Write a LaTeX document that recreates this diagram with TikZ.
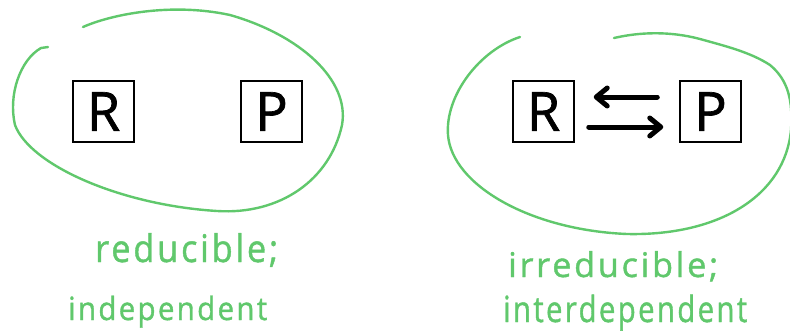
\documentclass[tikz,border=0pt]{standalone}
\usepackage{fontspec}
\setmainfont{Open Sans}
\newfontfamily\handfont[LetterSpace=8,FakeBold=1.2]{Open Sans}
\newfontfamily\boxfont[FakeBold=1.3]{Open Sans}
\usetikzlibrary{arrows.meta}
\definecolor{hgreen}{RGB}{96,200,108}
\tikzset{
  box/.style={draw=black, line width=1.5pt, minimum size=61pt, inner sep=0pt,
    font=\boxfont\fontsize{54}{54}\selectfont},
  loop/.style={draw=hgreen, line width=2.4pt, line cap=round, line join=round},
  hand/.style={text=hgreen, inner sep=0pt, anchor=base west},
  arr/.style={line width=5pt, line cap=round,
    -{Straight Barb[length=11pt,width=18pt,round]}},
}
\newcommand\fitw[2]{\resizebox{#1}{\height}{#2}}
\begin{document}
\begin{tikzpicture}[x=1pt,y=-1pt]
\useasboundingbox (0,0) rectangle (790,335);
\clip (0,0) rectangle (790,335);
\fill[white] (0,0) rectangle (790,335);

% left loop
\draw[loop] (48,47) -- (41,48)
  .. controls (20,60) and (8,95) .. (15,125)
  .. controls (30,165) and (120,205) .. (217,211)
  .. controls (280,215) and (330,180) .. (342,125)
  .. controls (350,80) and (300,35) .. (230,15)
  .. controls (170,2) and (110,15) .. (83,27);

% right loop
\draw[loop] (520,37)
  .. controls (480,50) and (445,95) .. (448,135)
  .. controls (452,185) and (530,230) .. (627,234)
  .. controls (720,236) and (785,195) .. (791,130)
  .. controls (793,100) and (788,80) .. (770,65)
  .. controls (750,52) and (725,46) .. (700,39)
  .. controls (670,31) and (640,32) .. (614,38);

% boxes
\node[box] (R1) at (103.5,111.5) {R};
\node[box] (P1) at (271.5,111.5) {P};
\node[box] (R2) at (543.5,111.5) {R};
\node[box] (P2) at (710.5,111.5) {P};

% arrows
\draw[arr] ([shift={(-22,-14.5)}]P2.west) -- ([shift={(19,-14.5)}]R2.east);
\draw[arr] ([shift={(14,15.5)}]R2.east) -- ([shift={(-16,15.5)}]P2.west);

% labels
\node[hand, font=\handfont\fontsize{38}{38}\selectfont] (t1) at (95,262) {\fitw{183pt}{reducible;}};
\node[hand, font=\handfont\fontsize{32}{32}\selectfont] (t2) at (68,320) {\fitw{199pt}{independent}};
\node[hand, font=\handfont\fontsize{34}{34}\selectfont] (t3) at (508,277) {\fitw{210pt}{irreducible;}};
\node[hand, font=\handfont\fontsize{36}{36}\selectfont] (t4) at (503,322) {\fitw{244pt}{interdependent}};
\end{tikzpicture}
\end{document}
